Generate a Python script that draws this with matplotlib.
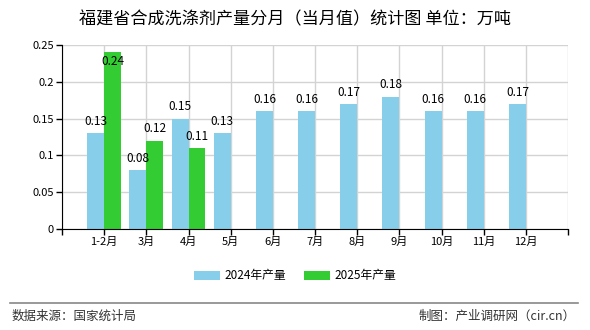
import matplotlib
matplotlib.use('Agg')
import matplotlib.pyplot as plt
import numpy as np

plt.rcParams['font.family'] = ['Noto Sans CJK SC', 'DejaVu Sans']

months = ['1-2月', '3月', '4月', '5月', '6月', '7月', '8月', '9月', '10月', '11月', '12月']
prod_2024 = [0.13, 0.08, 0.15, 0.13, 0.16, 0.16, 0.17, 0.18, 0.16, 0.16, 0.17]
prod_2025 = [0.24, 0.12, 0.11]
yticks = [0, 0.05, 0.1, 0.15, 0.2, 0.25]
ytick_labels = ['0', '0.05', '0.1', '0.15', '0.2', '0.25']

fig = plt.figure(figsize=(5.9, 3.3), dpi=100)
ax = fig.add_axes([62 / 590, 1 - 229 / 330, (568 - 62) / 590, (229 - 45) / 330])

x = np.arange(len(months))
w = 0.4
ax.bar(x - w / 2, prod_2024, width=w, color='#87CEEB', label='2024年产量', zorder=2)
x25 = np.arange(len(prod_2025))
ax.bar(x25 + w / 2, prod_2025, width=w, color='#33CC33', label='2025年产量', zorder=2)

# value labels, pushed down when they would run off the top
for xi, v in zip(x - w / 2, prod_2024):
    ax.text(xi, min(v + 0.016, 0.228), f'{v:g}', ha='center', va='center', fontsize=8.5, zorder=3)
for xi, v in zip(x25 + w / 2, prod_2025):
    ax.text(xi, min(v + 0.016, 0.228), f'{v:g}', ha='center', va='center', fontsize=8.5, zorder=3)

ax.set_xlim(-1, 11)
ax.set_ylim(0, 0.25)
ax.set_xticks(np.arange(-1, 12))
ax.set_xticklabels([''] + months + [''], fontsize=8)
ax.set_yticks(yticks)
ax.set_yticklabels(ytick_labels, fontsize=8)
ax.tick_params(length=4, width=1, color='black', pad=2)
ax.grid(True, color='#d3d3d3', linewidth=1, zorder=0)
for s in ['top', 'right']:
    ax.spines[s].set_visible(False)
ax.spines['left'].set_color('black')
ax.spines['bottom'].set_color('black')

fig.text(0.5, 1 - 19 / 330, '福建省合成洗涤剂产量分月（当月值）统计图 单位：万吨',
         ha='center', va='center', fontsize=12.3)

fig.legend(loc='center', bbox_to_anchor=(0.5, 1 - 276 / 330), ncol=2, frameon=False,
           fontsize=8.5, handlelength=2.2, handleheight=0.9, columnspacing=1.5, handletextpad=0.4)

fig.add_artist(plt.Line2D([10 / 590, 578 / 590], [1 - 303 / 330] * 2, color='#888888', linewidth=1.2))
fig.text(12 / 590, 1 - 316 / 330, '数据来源：国家统计局', ha='left', va='center', fontsize=9, color='#333333')
fig.text(576 / 590, 1 - 316 / 330, '制图：产业调研网（cir.cn）', ha='right', va='center', fontsize=9, color='#333333')

fig.savefig('out.png', dpi=100)
